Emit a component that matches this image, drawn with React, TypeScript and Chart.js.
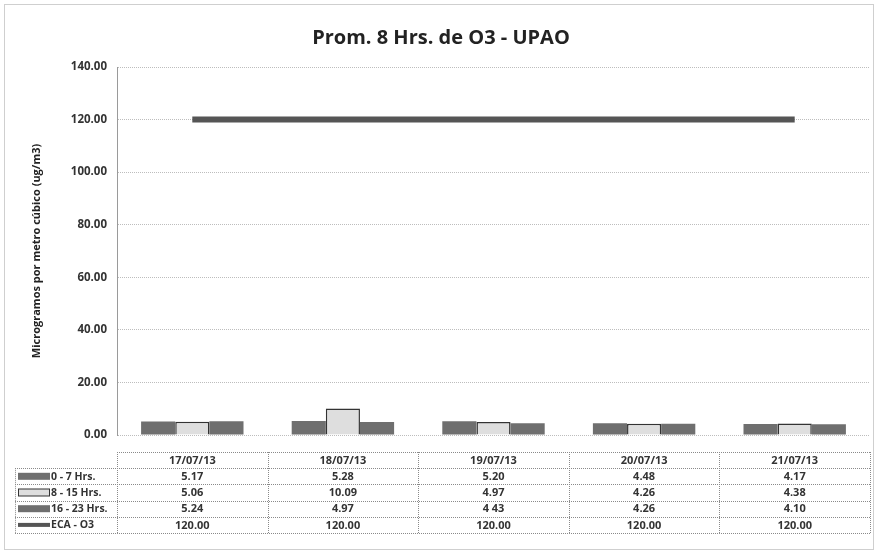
import React, { useEffect, useRef } from "react";
import { Chart, registerables } from "chart.js";
Chart.register(...registerables);

const categories = ["17/07/13", "18/07/13", "19/07/13", "20/07/13", "21/07/13"];
const series0to7 = [5.17, 5.28, 5.2, 4.48, 4.17];
const series8to15 = [5.06, 10.09, 4.97, 4.26, 4.38];
const series16to23 = [5.24, 4.97, 4.43, 4.26, 4.1];
const seriesECA = [120, 120, 120, 120, 120];
const tableLabels = ["0 - 7 Hrs.", "8 - 15 Hrs.", "16 - 23 Hrs.", "ECA - O3"];
const tableText = [
  ["5.17", "5.28", "5.20", "4.48", "4.17"],
  ["5.06", "10.09", "4.97", "4.26", "4.38"],
  ["5.24", "4.97", "4 43", "4.26", "4.10"],
  ["120.00", "120.00", "120.00", "120.00", "120.00"],
];
const yTicks = [0, 20, 40, 60, 80, 100, 120, 140];

const FONT = "'Open Sans', 'Liberation Sans', sans-serif";
const DARK = "#6f6f6f";
const LIGHT = "#dedede";

const overlay = {
  id: "overlay",
  afterDraw(chart: any) {
    const ctx = chart.ctx;
    const area = chart.chartArea;
    const xs = chart.scales.x;
    ctx.save();
    // outer border
    ctx.strokeStyle = "#cfcfcf";
    ctx.lineWidth = 1;
    ctx.strokeRect(4.5, 4.5, chart.width - 9, chart.height - 9);
    // title
    ctx.fillStyle = "#222";
    ctx.font = `bold 20px ${FONT}`;
    ctx.textAlign = "center";
    ctx.textBaseline = "middle";
    ctx.fillText("Prom. 8 Hrs. de O3 - UPAO", 441, 38);
    // table
    const n = categories.length;
    const colW = (area.right - area.left) / n;
    const top = area.bottom + 17;
    const rowH = 16.2;
    const legLeft = 15;
    ctx.strokeStyle = "#8a8a8a";
    ctx.setLineDash([1, 1]);
    ctx.lineWidth = 1;
    for (let r = 0; r <= 5; r++) {
      const y = Math.round(top + r * rowH) + 0.5;
      ctx.beginPath();
      ctx.moveTo(r === 0 ? area.left : legLeft, y);
      ctx.lineTo(area.right, y);
      ctx.stroke();
    }
    for (let c = 0; c <= n; c++) {
      const x = Math.round(area.left + c * colW) + 0.5;
      ctx.beginPath();
      ctx.moveTo(x, top);
      ctx.lineTo(x, top + 5 * rowH);
      ctx.stroke();
    }
    ctx.beginPath();
    ctx.moveTo(legLeft + 0.5, top + rowH);
    ctx.lineTo(legLeft + 0.5, top + 5 * rowH);
    ctx.stroke();
    ctx.setLineDash([]);
    ctx.fillStyle = "#333";
    ctx.font = `bold 11px ${FONT}`;
    ctx.textAlign = "center";
    categories.forEach((c, i) => {
      ctx.fillText(c, xs.getPixelForValue(i), top + rowH / 2 + 0.5);
    });
    tableText.forEach((row, r) => {
      const yc = top + (r + 1) * rowH + rowH / 2 + 0.5;
      row.forEach((t, i) => {
        ctx.fillText(t, xs.getPixelForValue(i), yc);
      });
    });
    ctx.textAlign = "left";
    ctx.font = `bold 10.5px ${FONT}`;
    tableLabels.forEach((lab, r) => {
      const yc = top + (r + 1) * rowH + rowH / 2;
      const kx = 18;
      const kw = 32;
      if (r === 3) {
        ctx.fillStyle = "#555";
        ctx.fillRect(kx, yc - 2, kw, 4);
      } else {
        ctx.fillStyle = r === 1 ? LIGHT : DARK;
        ctx.fillRect(kx, yc - 3.5, kw, 7);
        ctx.strokeStyle = "#333";
        ctx.lineWidth = 1;
        if (r === 1) ctx.strokeRect(kx + 0.5, yc - 3.5, kw - 1, 7);
      }
      ctx.fillStyle = "#333";
      ctx.fillText(lab, kx + kw + 1, yc + 0.5);
    });
    ctx.restore();
  },
};

export default function App() {
  const ref = useRef<HTMLCanvasElement | null>(null);
  useEffect(() => {
    document.body.style.margin = "0";
    const chart = new Chart(ref.current as HTMLCanvasElement, {
      type: "bar",
      data: {
        labels: categories,
        datasets: [
          {
            type: "line",
            label: "ECA - O3",
            data: seriesECA,
            borderColor: "#555555",
            borderWidth: 6,
            pointRadius: 0,
            order: 0,
          } as any,
          {
            label: "0 - 7 Hrs.",
            data: series0to7,
            backgroundColor: DARK,
            borderWidth: 0,
            categoryPercentage: 0.68,
            barPercentage: 1.0,
            order: 1,
          },
          {
            label: "8 - 15 Hrs.",
            data: series8to15,
            backgroundColor: LIGHT,
            borderColor: "#333",
            borderWidth: 1.5,
            categoryPercentage: 0.68,
            barPercentage: 1.0,
            order: 1,
          },
          {
            label: "16 - 23 Hrs.",
            data: series16to23,
            backgroundColor: DARK,
            borderWidth: 0,
            categoryPercentage: 0.68,
            barPercentage: 1.0,
            order: 1,
          },
        ],
      },
      options: {
        animation: false,
        responsive: false,
        layout: { padding: { top: 67, bottom: 119, right: 8, left: 30 } },
        plugins: { legend: { display: false }, title: { display: false }, tooltip: { enabled: false } },
        scales: {
          x: { display: false, grid: { display: false } },
          y: {
            min: 0,
            max: 140,
            afterBuildTicks: (s: any) => {
              s.ticks = yTicks.map((v) => ({ value: v }));
            },
            afterFit: (s: any) => {
              s.width = 87;
            },
            ticks: {
              callback: (v: any) => Number(v).toFixed(2),
              color: "#333",
              font: { family: FONT, size: 11.5, weight: "bold" },
              padding: 10,
            },
            grid: { color: "#bdbdbd", drawTicks: false } as any,
            border: { display: true, color: "#9a9a9a", dash: [1, 1] },
            title: {
              display: true,
              text: "Microgramos por metro cúbico (ug/m3)",
              color: "#222",
              font: { family: FONT, size: 11, weight: "bold" },
              padding: { top: 0, bottom: 0 },
            },
          },
        },
      } as any,
      plugins: [overlay],
    });
    return () => chart.destroy();
  }, []);
  return (
    <div style={{ width: 878, height: 554, background: "#fff" }}>
      <canvas ref={ref} width={878} height={554} style={{ display: "block" }} />
    </div>
  );
}
